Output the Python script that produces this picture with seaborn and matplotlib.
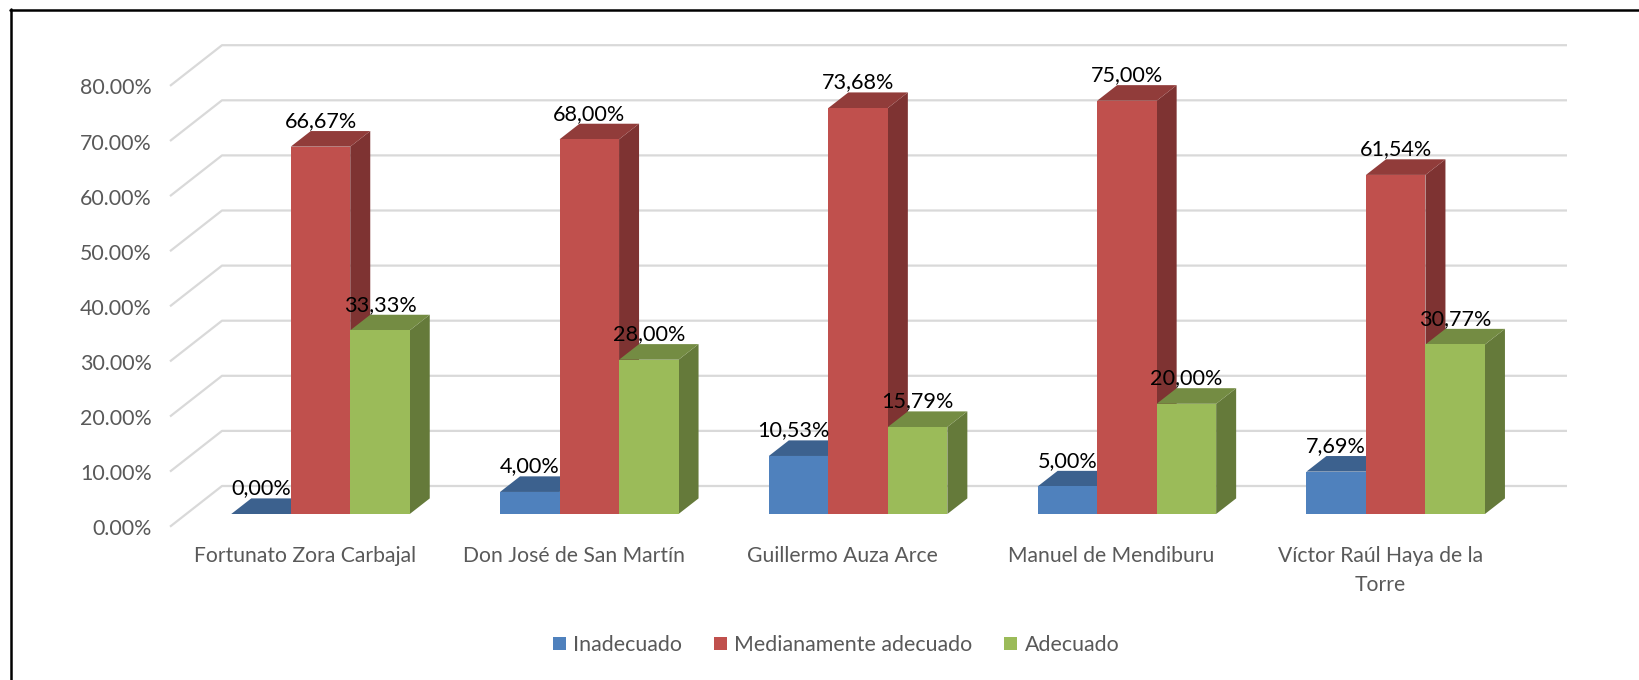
import matplotlib
matplotlib.use("Agg")
import matplotlib.pyplot as plt
import pandas as pd
import seaborn as sns
from matplotlib.lines import Line2D
from matplotlib.patches import Polygon
from matplotlib.transforms import ScaledTranslation

# ---- data ----
schools = ["Fortunato Zora Carbajal", "Don José de San Martín", "Guillermo Auza Arce",
           "Manuel de Mendiburu", "Víctor Raúl Haya de la\nTorre"]
levels = ["Inadecuado", "Medianamente adecuado", "Adecuado"]
inadecuado = [0.00, 4.00, 10.53, 5.00, 7.69]
medianamente = [66.67, 68.00, 73.68, 75.00, 61.54]
adecuado = [33.33, 28.00, 15.79, 20.00, 30.77]
y_ticks = [0, 10, 20, 30, 40, 50, 60, 70, 80]

front_colors = ["#4F81BD", "#C0504D", "#9BBB59"]
top_colors = ["#3C618E", "#913C3A", "#748C43"]
side_colors = ["#2F4D71", "#7E3332", "#657A3A"]

FONT = "Lato"
W, H = 1639, 680

sns.set_theme(style="white")
plt.rcParams["font.family"] = [FONT, "DejaVu Sans"]

df = pd.DataFrame({
    "school": schools * 3,
    "level": [lv for lv in levels for _ in schools],
    "value": inadecuado + medianamente + adecuado,
})

fig = plt.figure(figsize=(W / 100, H / 100), dpi=100, facecolor="white")

# layout in pixels of the figure
ax_left, ax_right, base_y = 170, 1567, 514
px_per_pct = 5.51
group_step = 268.8
first_center = 320.5
bar_px = 59.5

ax = fig.add_axes([ax_left / W, 1 - base_y / H,
                   (ax_right - ax_left) / W, 80 * px_per_pct / H])
ax.set_facecolor("none")

sns.barplot(data=df, x="school", y="value", hue="level", order=schools, hue_order=levels,
            palette=front_colors, saturation=1, width=3 * bar_px / group_step, gap=0,
            ax=ax, zorder=5, edgecolor="none", linewidth=0)

ax.set_xlim((ax_left - first_center) / group_step, (ax_right - first_center) / group_step)
ax.set_ylim(0, 80)
ax.set_xlabel("")
ax.set_ylabel("")
for sp in ax.spines.values():
    sp.set_visible(False)


def xd(px):
    return px / group_step


def yd(px):
    return px / px_per_pct


# walls: slanted left part plus back wall line per tick
x_lo, x_hi = ax.get_xlim()
for v in y_ticks:
    ax.plot([x_lo, x_lo + xd(52), x_hi],
            [v - yd(12.7), v + yd(28), v + yd(28)],
            color="#D9D9D9", lw=1.6, clip_on=False, zorder=1, solid_capstyle="butt")

# depth faces and data labels
dx, dy = xd(20), yd(15.6)
for i, cont in enumerate(ax.containers):
    z = 5 + i
    for rect in cont:
        x0, w, h = rect.get_x(), rect.get_width(), rect.get_height()
        rect.set_zorder(z + 0.2)
        rect.set_clip_on(False)
        ax.add_patch(Polygon([(x0 + w, 0), (x0 + w + dx, dy), (x0 + w + dx, h + dy), (x0 + w, h)],
                             closed=True, fc=side_colors[i], ec="none", zorder=z, clip_on=False))
        ax.add_patch(Polygon([(x0, h), (x0 + dx, h + dy), (x0 + w + dx, h + dy), (x0 + w, h)],
                             closed=True, fc=top_colors[i], ec="none", zorder=z, clip_on=False))
        # a wide label on the first series is pushed left, clear of the middle bar
        nudge = -4 if (i == 0 and h >= 10) else 0
        ax.annotate(f"{h:.2f}%".replace(".", ","), (x0 + w / 2, h), xytext=(nudge, 18.5),
                    textcoords="offset points", ha="center", va="center",
                    fontsize=15.6, color="black", zorder=20, annotation_clip=False)

# ticks
ax.set_yticks(y_ticks)
ax.set_yticklabels([f"{v:.2f}%" for v in y_ticks])
ax.tick_params(axis="y", length=0, pad=13, labelsize=15.4, labelcolor="#595959")
ax.tick_params(axis="x", length=0, pad=23, labelsize=15.2, labelcolor="#595959")
dpi = fig.dpi
for lab in ax.get_yticklabels():
    lab.set_transform(lab.get_transform() + ScaledTranslation(0, -13.2 / dpi, fig.dpi_scale_trans))
for lab in ax.get_xticklabels():
    lab.set_transform(lab.get_transform() + ScaledTranslation(-15.5 / dpi, 0, fig.dpi_scale_trans))
    lab.set_linespacing(1.58)

# legend
handles, labels = ax.get_legend_handles_labels()
ax.get_legend().remove()
fig.legend(handles, labels, loc="center", bbox_to_anchor=(836 / W, 1 - 645 / H), ncol=3,
           frameon=False, fontsize=15.4, labelcolor="#595959", handlelength=0.62, handleheight=0.62,
           handletextpad=0.34, columnspacing=1.47)

# outer frame: top and left edges only
for xs, ys in (((10, W), (9.5, 9.5)), ((10.5, 10.5), (9, H))):
    fig.add_artist(Line2D([x / W for x in xs], [1 - y / H for y in ys],
                          transform=fig.transFigure, color="black", lw=1.8))

fig.savefig("out.png", dpi=100)
